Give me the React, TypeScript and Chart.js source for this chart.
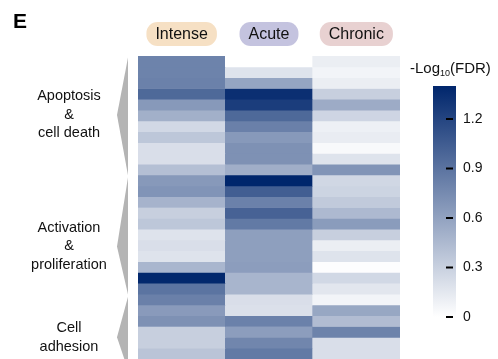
import { useEffect, useRef } from "react";
import { Chart, registerables } from "chart.js";

Chart.register(...registerables);

// -Log10(FDR) per gene-set row, top to bottom, one array per condition
const conditions = ["Intense", "Acute", "Chronic"];
const intense = [
  0.8, 0.8, 0.81, 0.97, 0.66, 0.51, 0.25, 0.36, 0.21, 0.21, 0.41, 0.66, 0.69, 0.49,
  0.31, 0.36, 0.18, 0.21, 0.18, 0.47, 1.39, 0.9, 0.82, 0.65, 0.71, 0.31, 0.31, 0.38,
];
const acute = [
  0.0, 0.18, 0.58, 1.34, 1.25, 0.97, 0.82, 0.66, 0.71, 0.71, 0.52, 1.4, 1.04, 0.81,
  1.01, 0.86, 0.62, 0.62, 0.62, 0.63, 0.48, 0.48, 0.21, 0.2, 0.81, 0.63, 0.78, 0.86,
];
const chronic = [
  0.11, 0.07, 0.11, 0.31, 0.54, 0.27, 0.1, 0.12, 0.04, 0.18, 0.69, 0.26, 0.28, 0.34,
  0.45, 0.64, 0.31, 0.11, 0.18, 0.01, 0.25, 0.16, 0.07, 0.57, 0.43, 0.8, 0.21, 0.21,
];
const seriesByCondition = [intense, acute, chronic];

// condition pill fills
const pillColors = ["#f6e0c4", "#c4c3df", "#e8d1d1"];

// colour scale
const scaleMax = 1.4;
const colorTicks = [0, 0.3, 0.6, 0.9, 1.2];
const colorTickLabels = ["0", "0.3", "0.6", "0.9", "1.2"];

// functional groups along the rows (row units)
const groupLabels = [
  ["Apoptosis", "&", "cell death"],
  ["Activation", "&", "proliferation"],
  ["Cell", "adhesion"],
];
const groupStart = [0.15, 11.2, 22.25];
const groupEnd = [11.05, 22.05, 29];
const groupTip = [5.45, 17.6, 26.0];

const LOW = [255, 255, 255];
const HIGH = [0, 38, 108];

function colorFor(v: number): string {
  const t = Math.max(0, Math.min(1, v / scaleMax));
  const c = LOW.map((l, i) => Math.round(l + (HIGH[i] - l) * t));
  return `rgb(${c[0]},${c[1]},${c[2]})`;
}

const FONT = '"Liberation Sans", Arial, sans-serif';

const decorations = {
  id: "decorations",
  afterDraw(chart: any) {
    const ctx: CanvasRenderingContext2D = chart.ctx;
    const xs = chart.scales.x;
    const ys = chart.scales.y;
    ctx.save();

    // panel letter
    ctx.fillStyle = "#000";
    ctx.font = `bold 21px ${FONT}`;
    ctx.textAlign = "left";
    ctx.textBaseline = "alphabetic";
    ctx.fillText("E", 13, 28);

    // condition pills
    ctx.font = `16px ${FONT}`;
    conditions.forEach((name, i) => {
      const cx = xs.getPixelForValue(i);
      const w = ctx.measureText(name).width + 18;
      const h = 24;
      const top = 22;
      ctx.fillStyle = pillColors[i];
      ctx.beginPath();
      ctx.roundRect(cx - w / 2, top, w, h, 11);
      ctx.fill();
      ctx.fillStyle = "#111";
      ctx.textAlign = "center";
      ctx.textBaseline = "middle";
      ctx.fillText(name, cx, top + h / 2 + 1);
    });

    // group brackets and labels
    const area = chart.chartArea;
    const rightX = area.left - 10;
    const tipX = area.left - 21;
    groupLabels.forEach((lines, g) => {
      const y0 = ys.getPixelForValue(groupStart[g]);
      const y1 = ys.getPixelForValue(groupEnd[g]);
      const yt = ys.getPixelForValue(groupTip[g]);
      ctx.fillStyle = "#b4b4b4";
      ctx.beginPath();
      ctx.moveTo(rightX, y0);
      ctx.lineTo(tipX, yt);
      ctx.lineTo(rightX, y1);
      ctx.closePath();
      ctx.fill();

      ctx.fillStyle = "#111";
      ctx.font = `14.5px ${FONT}`;
      ctx.textAlign = "center";
      ctx.textBaseline = "middle";
      const lh = 18.5;
      const startY = yt - ((lines.length - 1) * lh) / 2;
      lines.forEach((ln, k) => ctx.fillText(ln, 69, startY + k * lh));
    });

    // colour bar
    const barX = 433;
    const barW = 23;
    const bar0 = 317;
    const pxPerUnit = 165;
    const barTop = bar0 - scaleMax * pxPerUnit;
    const grad = ctx.createLinearGradient(0, bar0, 0, barTop);
    grad.addColorStop(0, colorFor(0));
    grad.addColorStop(1, colorFor(scaleMax));
    ctx.fillStyle = grad;
    ctx.fillRect(barX, barTop, barW, bar0 - barTop);

    ctx.font = `14px ${FONT}`;
    ctx.textAlign = "left";
    ctx.textBaseline = "middle";
    colorTicks.forEach((v, i) => {
      const y = bar0 - v * pxPerUnit;
      ctx.fillStyle = "#000";
      ctx.fillRect(446, y - 1, 7, 2);
      ctx.fillStyle = "#111";
      ctx.fillText(colorTickLabels[i], 463, y);
    });

    // colour bar title: -Log10(FDR)
    ctx.textBaseline = "alphabetic";
    ctx.font = `15px ${FONT}`;
    let tx = 410;
    const ty = 73;
    ctx.fillText("-Log", tx, ty);
    tx += ctx.measureText("-Log").width;
    ctx.font = `9px ${FONT}`;
    ctx.fillText("10", tx, ty + 3);
    tx += ctx.measureText("10").width;
    ctx.font = `15px ${FONT}`;
    ctx.fillText("(FDR)", tx, ty);

    ctx.restore();
  },
};

export default function App() {
  const canvasRef = useRef<HTMLCanvasElement | null>(null);

  useEffect(() => {
    const canvas = canvasRef.current;
    if (!canvas) return;
    const rowCount = intense.length;
    const datasets = Array.from({ length: rowCount }, (_, r) => ({
      label: `row ${r + 1}`,
      data: conditions.map(() => 1),
      backgroundColor: seriesByCondition.map((s) => colorFor(s[r])),
      borderWidth: 0,
      barPercentage: 1,
      categoryPercentage: 1,
      stack: "rows",
    }));

    const chart = new Chart(canvas, {
      type: "bar",
      data: { labels: conditions, datasets },
      options: {
        animation: false,
        responsive: false,
        maintainAspectRatio: false,
        devicePixelRatio: 1,
        layout: { padding: { left: 138, right: 98, top: 56, bottom: 0 } },
        plugins: {
          legend: { display: false },
          tooltip: { enabled: false },
        },
        scales: {
          x: { stacked: true, display: false },
          y: { stacked: true, display: false, min: 0, max: rowCount, reverse: true },
        },
      },
      plugins: [decorations],
    });
    return () => chart.destroy();
  }, []);

  return (
    <div style={{ position: "fixed", left: 0, top: 0, width: 498, height: 359, background: "#fff" }}>
      <canvas ref={canvasRef} width={498} height={359} />
    </div>
  );
}
